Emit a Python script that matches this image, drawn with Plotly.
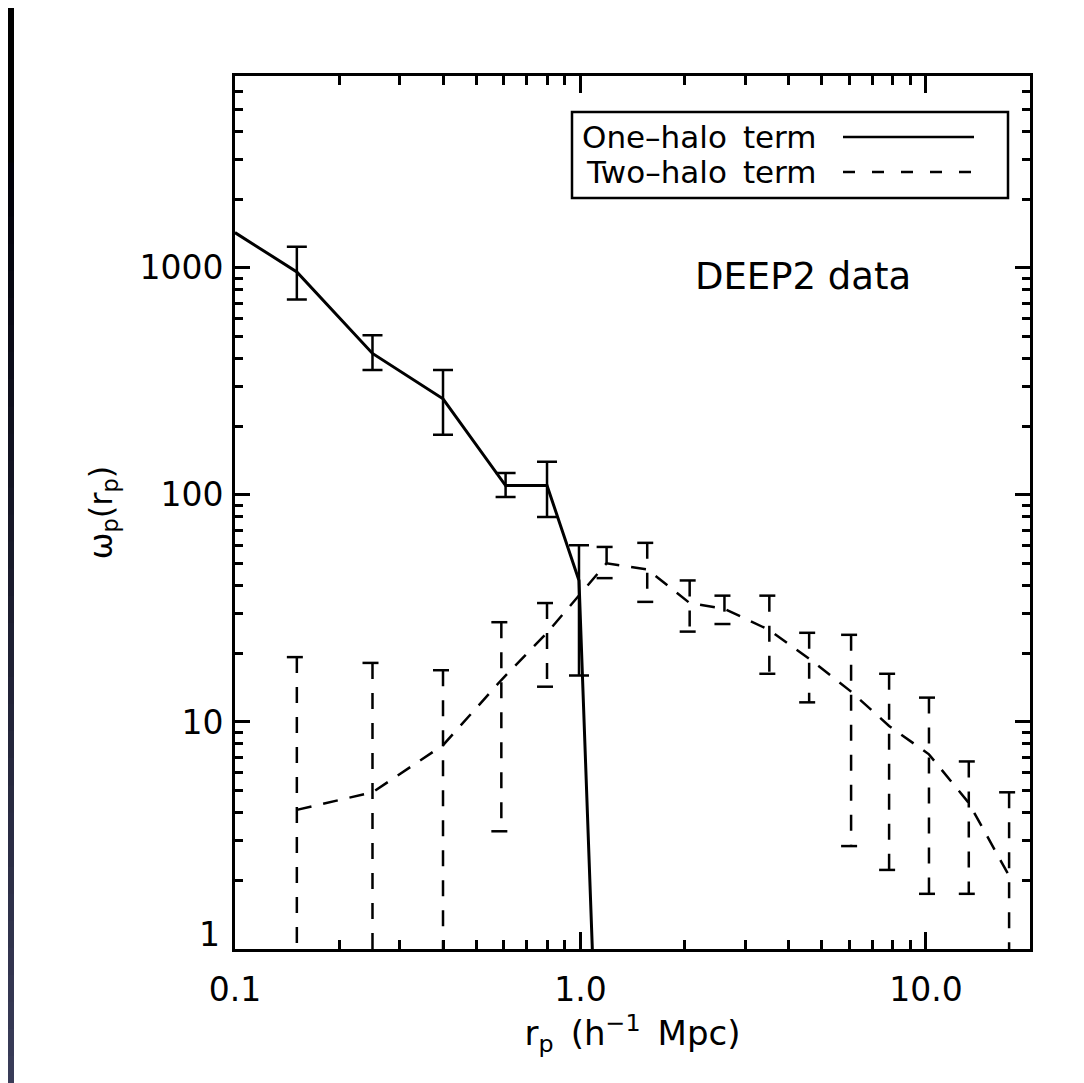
import plotly.graph_objects as go
import numpy as np

# ---------------- data ----------------
# one-halo term (solid) : DEEP2 points with error bars
one_halo_r = [0.151, 0.25, 0.40, 0.607, 0.80, 0.99]
one_halo_w = [960, 420, 265, 110, 110, 42]
one_halo_hi = [1240, 505, 355, 125, 140, 60]
one_halo_lo = [725, 355, 184, 98, 80, 16]
# solid curve end points (model continuation)
one_halo_line_r = [0.10] + one_halo_r + [1.10]
one_halo_line_w = [1430] + one_halo_w + [0.5]

# two-halo term (dashed)
two_halo_r = [0.151, 0.25, 0.40, 0.59, 0.80, 1.19, 1.56, 2.07, 2.61, 3.52,
              4.59, 6.07, 7.82, 10.2, 13.3, 17.4]
two_halo_w = [4.1, 4.9, 7.9, 15.3, 24.7, 50, 47, 33.4, 31.5, 25.4,
              19, 13.6, 9.6, 7.2, 4.4, 2.1]
two_halo_hi = [19.3, 18.2, 16.9, 27.5, 33.4, 59, 61.5, 42, 36, 36,
               24.7, 24.2, 16.3, 12.8, 6.7, 4.9]
two_halo_lo = [0.5, 0.5, 0.5, 3.3, 14.3, 43, 33.8, 25, 27, 16.3,
               12.2, 2.84, 2.23, 1.75, 1.75, 0.5]

x_major = [0.1, 1, 10]
x_major_text = ["0.1", "1.0", "10.0"]
x_minor = [0.2, 0.3, 0.4, 0.5, 0.6, 0.7, 0.8, 0.9, 2, 3, 4, 5, 6, 7, 8, 9]
y_major = [1, 10, 100, 1000]
y_major_text = ["", "10", "100", "1000"]   # "1" is placed separately (IDL style)
y_bottom_label = "1"
y_minor = [m * d for d in (1, 10, 100, 1000) for m in range(2, 10) if m * d <= 7000]

# ---------------- layout geometry ----------------
OFF = 8                      # page body margin
W, H = 1084 - 2 * OFF, 1083 - OFF
ML, MT = 235 - OFF, 76 - OFF
PW, PH = 795, 873
MR, MB = W - ML - PW, H - MT - PH
FONT = "DejaVu Sans"


def px(x):  # screen pixel -> paper x
    return (x - OFF - ML) / PW


def py(y):  # screen pixel -> paper y
    return (MT + PH - (y - OFF)) / PH


fig = go.Figure()

# solid one-halo curve
fig.add_trace(go.Scatter(x=one_halo_line_r, y=one_halo_line_w, mode="lines",
                         line=dict(color="black", width=3), showlegend=False,
                         hoverinfo="skip"))
# solid error bars
fig.add_trace(go.Scatter(
    x=one_halo_r, y=one_halo_w, mode="markers",
    marker=dict(size=1, color="rgba(0,0,0,0)"),
    error_y=dict(type="data", symmetric=False,
                 array=[h - w for h, w in zip(one_halo_hi, one_halo_w)],
                 arrayminus=[w - l for w, l in zip(one_halo_w, one_halo_lo)],
                 color="black", thickness=2.5, width=10),
    showlegend=False))

# dashed two-halo curve
fig.add_trace(go.Scatter(x=two_halo_r, y=two_halo_w, mode="lines",
                         line=dict(color="black", width=2.5, dash="15px,12px"),
                         showlegend=False, hoverinfo="skip"))

# dashed error bars (vertical + caps), built from the data arrays
cap = 10.0 ** (10.0 / 346.0)
ex, ey = [], []
for r, lo, hi in zip(two_halo_r, two_halo_lo, two_halo_hi):
    ex += [r, r, None, r / cap, r * cap, None, r / cap, r * cap, None]
    ey += [hi, lo, None, hi, hi, None, lo, lo, None]
fig.add_trace(go.Scatter(x=ex, y=ey, mode="lines",
                         line=dict(color="black", width=2.5, dash="16px,14px"),
                         showlegend=False, hoverinfo="skip"))

axis_common = dict(
    showgrid=False, zeroline=False, showline=True, linecolor="black",
    linewidth=3, mirror="ticks", ticks="inside", tickcolor="black",
    tickwidth=2.5, tickfont=dict(family=FONT, size=33, color="black"),
)

fig.update_xaxes(
    type="log", range=[-1, np.log10(20)], tickmode="array",
    tickvals=x_major, ticktext=x_major_text, ticklen=17,
    ticklabelstandoff=9,
    minor=dict(ticks="inside", tickvals=x_minor, ticklen=9, tickwidth=2.5,
               tickcolor="black", showgrid=False),
    title=dict(text="r<sub>p</sub>\u2002(h<sup>−1</sup>\u2002Mpc)",
               font=dict(family=FONT, size=34, color="black"), standoff=8),
    **axis_common)
fig.update_yaxes(
    type="log", range=[0, np.log10(7000)], tickmode="array",
    tickvals=y_major, ticktext=y_major_text, ticklen=15,
    ticklabelstandoff=2,
    minor=dict(ticks="inside", tickvals=y_minor, ticklen=8, tickwidth=2.5,
               tickcolor="black", showgrid=False),
    title=dict(text="ω<sub>p</sub>(r<sub>p</sub>)",
               font=dict(family=FONT, size=32, color="black"), standoff=18),
    **axis_common)

shapes = []
# slide background: dark left strip (gradient), black top band
NB = 40
for i in range(NB):
    t0, t1 = i / NB, (i + 1) / NB
    t = (t0 + t1) / 2
    if t < 0.15:
        c = (0, 0, 0)
    else:
        f = (t - 0.15) / 0.85
        c = (int(58 * f), int(61 * f), int(8 + 82 * f))
    shapes.append(dict(type="rect", xref="paper", yref="paper",
                       x0=px(-20), x1=px(14), y0=py(t1 * 1083 + 1),
                       y1=py(t0 * 1083),
                       line=dict(width=0), fillcolor="rgb(%d,%d,%d)" % c,
                       layer="below"))
shapes.append(dict(type="rect", xref="paper", yref="paper",
                   x0=px(-20), x1=px(1100), y0=py(6), y1=py(-20),
                   line=dict(width=0), fillcolor="black", layer="below"))

# legend box
shapes.append(dict(type="rect", xref="paper", yref="paper",
                   x0=px(572), x1=px(1008), y0=py(198), y1=py(112),
                   line=dict(color="black", width=2.5), fillcolor="white"))
shapes.append(dict(type="line", xref="paper", yref="paper",
                   x0=px(843), x1=px(974), y0=py(137), y1=py(137),
                   line=dict(color="black", width=2.5)))
shapes.append(dict(type="line", xref="paper", yref="paper",
                   x0=px(843), x1=px(974), y0=py(172), y1=py(172),
                   line=dict(color="black", width=2.5, dash="12px,17px")))

annotations = [
    dict(text="One–halo\u2009 term", xref="paper", yref="paper", x=px(819),
         y=py(137), xanchor="right", yanchor="middle", showarrow=False,
         font=dict(family=FONT, size=31, color="black")),
    dict(text="Two–halo\u2009 term", xref="paper", yref="paper", x=px(819),
         y=py(172), xanchor="right", yanchor="middle", showarrow=False,
         font=dict(family=FONT, size=31, color="black")),
    dict(text="DEEP2 data", xref="paper", yref="paper", x=px(913),
         y=py(276), xanchor="right", yanchor="middle", showarrow=False,
         font=dict(family=FONT, size=37, color="black")),
    # bottom y tick label, raised above the corner as in the original
    dict(text=y_bottom_label, xref="paper", yref="y", x=px(222), y=0,
         xanchor="right", yanchor="bottom", yshift=-7, showarrow=False,
         font=dict(family=FONT, size=33, color="black")),
]

fig.update_layout(
    width=W, height=H, margin=dict(l=ML, r=MR, t=MT, b=MB),
    paper_bgcolor="white", plot_bgcolor="white",
    shapes=shapes, annotations=annotations, showlegend=False,
)

fig.write_html("out.html")
